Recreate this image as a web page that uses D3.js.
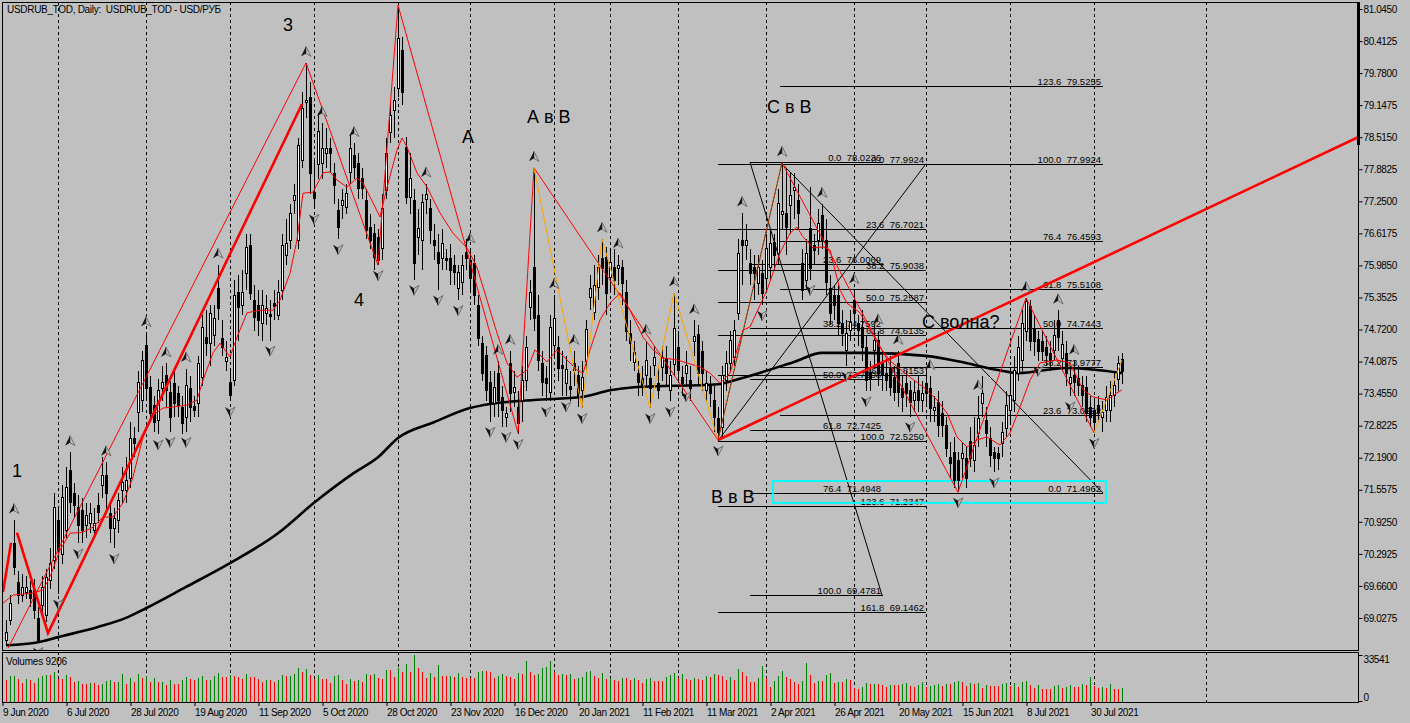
<!DOCTYPE html>
<html>
<head>
<meta charset="utf-8">
<script src="https://cdn.jsdelivr.net/npm/d3@7"></script>
<style>
    body { margin: 0; background: #c0c0c0; }
    svg { display: block; font-family: "Liberation Sans", Arial, sans-serif; }
    .lbl { white-space: pre; }
</style>
</head>
<body>
<svg id="chart" width="1410" height="723"></svg>
<script>
// ── Data ─────────────────────────────────────────────────────────────────────
// daily candles [open, high, low, close], bar 0 = 9 Jun 2020
const ohlc = [
    [68.59,68.99,68.49,68.75],[68.99,69.48,68.89,69.32],[70.51,70.96,69.88,70.03],[69.74,69.95,69.30,69.48],
    [69.48,69.90,69.35,69.64],[69.55,69.85,69.40,69.64],[69.58,69.75,69.25,69.42],[69.58,69.80,69.00,69.19],
    [69.03,69.25,68.55,68.59],[69.28,69.85,69.10,69.64],[69.09,70.00,68.95,69.84],[69.78,70.40,69.60,70.11],
    [70.17,71.50,70.00,71.22],[70.96,71.20,69.50,70.37],[70.30,71.65,70.10,71.41],[70.76,72.00,70.60,71.61],
    [71.95,72.30,71.10,71.31],[71.49,71.70,71.00,71.26],[71.22,71.45,70.50,70.86],[71.16,71.40,70.50,70.76],
    [70.86,71.30,70.60,71.06],[70.90,71.30,70.70,71.10],[70.76,71.20,70.60,70.90],[71.26,71.50,70.90,71.12],
    [71.65,72.20,71.40,71.85],[71.85,72.10,71.10,71.50],[71.10,71.30,70.50,70.80],[70.80,71.20,70.40,71.00],
    [70.96,71.50,70.70,71.35],[71.55,72.00,71.30,71.71],[71.55,72.20,71.30,71.75],[71.79,72.90,71.60,72.58],
    [72.58,72.80,72.20,72.48],[73.09,73.90,72.70,73.68],[73.33,74.30,73.10,74.12],[74.41,74.65,73.30,73.57],
    [73.59,73.80,72.90,73.07],[73.23,73.40,72.70,72.90],[72.93,73.75,72.65,73.53],[73.57,74.00,73.30,73.68],
    [73.82,74.05,73.20,73.53],[73.49,73.70,72.70,72.99],[73.66,73.95,73.00,73.27],[73.47,73.60,73.00,73.23],
    [73.19,73.40,72.65,72.87],[72.99,73.95,72.70,73.62],[73.56,73.80,72.90,73.19],[73.21,73.40,73.00,73.13],
    [73.27,74.20,73.00,74.06],[73.78,75.00,73.60,74.77],[74.57,75.10,74.20,74.45],[74.45,75.20,74.00,75.05],
    [74.61,75.20,74.40,74.94],[75.54,76.00,74.90,75.14],[74.55,74.90,74.20,74.37],[74.09,74.50,73.90,74.18],
    [73.68,73.90,73.30,73.43],[73.72,75.70,73.60,75.40],[75.46,75.80,74.50,75.16],[75.20,75.90,75.00,75.46],
    [75.83,76.60,75.50,76.35],[76.39,76.60,75.30,75.44],[75.30,75.60,74.70,74.97],[75.20,75.50,74.60,74.91],
    [74.85,75.50,74.50,75.20],[75.05,75.40,74.80,75.14],[75.03,75.30,74.50,74.99],[75.25,75.50,74.90,75.19],
    [75.00,75.70,74.90,75.46],[75.50,76.60,75.30,76.39],[76.19,76.90,76.00,76.43],[76.49,77.20,76.30,77.02],
    [77.28,77.60,77.00,77.38],[76.49,78.50,76.30,78.36],[78.06,79.40,77.90,79.09],[79.20,79.98,78.90,79.25],
    [79.31,79.60,77.40,77.81],[77.43,78.10,77.10,77.31],[77.99,79.00,77.70,78.64],[78.00,78.80,77.70,78.30],
    [78.20,78.70,77.90,78.30],[78.30,78.50,77.80,78.20],[77.81,78.00,77.20,77.57],[77.08,77.30,76.50,76.74],
    [77.18,77.50,76.90,77.28],[77.14,77.60,77.00,77.41],[77.83,78.55,77.60,78.30],[78.16,78.40,77.70,77.93],
    [78.00,78.20,77.30,77.51],[77.71,77.90,77.30,77.51],[77.28,77.50,76.50,76.68],[76.74,77.00,76.30,76.49],
    [76.62,76.80,75.90,76.15],[76.54,76.70,75.99,76.09],[76.33,77.40,76.10,77.12],[77.47,78.50,77.30,78.20],
    [78.62,79.20,78.40,78.95],[79.05,79.50,78.50,79.25],[79.49,81.10,79.30,80.47],[80.24,80.50,79.15,79.41],
    [78.32,78.52,77.20,77.34],[77.34,78.20,76.99,77.71],[77.28,77.50,75.70,76.03],[76.55,77.10,76.20,76.72],
    [76.49,77.40,75.90,77.24],[77.30,77.60,77.00,77.40],[77.12,77.30,76.40,76.68],[76.49,76.80,76.10,76.39],
    [76.25,76.60,75.50,76.03],[76.13,76.70,75.90,76.43],[76.13,76.30,75.90,76.09],[76.13,76.40,75.60,75.89],
    [75.99,76.20,75.60,75.85],[75.54,76.00,75.30,75.85],[75.66,76.20,75.40,75.99],[76.25,76.50,75.90,76.13],
    [76.09,76.30,75.50,75.74],[76.03,76.20,75.20,75.40],[75.20,75.40,74.40,74.55],[74.45,74.60,73.70,73.86],
    [74.22,74.40,73.30,73.53],[73.68,73.90,72.90,73.27],[73.27,73.90,73.00,73.59],[73.86,74.10,73.00,73.33],
    [73.39,73.60,72.80,73.13],[73.00,73.20,72.80,73.07],[74.06,74.30,73.10,73.47],[73.49,73.90,73.20,73.59],
    [73.19,73.50,72.66,72.87],[73.33,74.00,72.90,73.72],[73.72,74.60,73.50,74.37],[75.16,75.70,74.90,75.46],
    [75.95,77.91,74.70,74.95],[75.00,75.40,73.90,74.12],[74.06,74.30,73.40,73.68],[73.76,74.00,73.30,73.66],
    [73.49,75.00,73.30,74.77],[74.41,75.40,74.20,74.95],[74.37,74.60,73.70,73.96],[74.02,74.30,73.40,73.96],
    [73.66,74.20,73.40,73.94],[73.60,73.90,73.30,73.54],[74.06,74.30,73.60,73.92],[73.82,74.00,73.20,73.39],
    [73.53,74.10,73.17,73.78],[74.10,74.90,73.90,74.73],[75.36,75.80,75.10,75.54],[75.07,76.00,74.90,75.60],
    [75.56,76.20,75.30,75.95],[76.13,76.51,75.60,75.93],[76.15,76.35,75.00,75.44],[75.76,76.30,75.50,76.05],
    [75.95,76.30,75.40,75.70],[75.93,76.20,75.60,75.99],[75.95,76.10,75.20,75.64],[75.46,75.70,74.50,74.69],
    [74.65,74.90,74.10,74.45],[74.08,74.50,73.90,74.28],[73.86,74.10,73.40,73.68],[73.76,74.00,73.40,73.59],
    [73.82,74.50,73.60,74.12],[73.76,74.00,73.17,73.57],[74.02,74.40,73.80,74.18],[73.66,74.00,73.35,73.53],
    [73.98,74.40,73.70,74.18],[74.16,74.40,73.60,73.86],[73.53,74.10,73.30,73.82],[74.04,75.44,73.80,74.75],
    [74.37,74.70,73.70,73.92],[73.78,74.00,73.40,73.66],[73.86,74.30,73.60,74.02],[73.72,74.00,73.30,73.57],
    [74.49,74.90,74.20,74.59],[74.63,74.80,73.60,73.86],[74.30,74.50,73.50,73.86],[73.52,73.90,73.30,73.66],
    [73.62,73.80,73.20,73.47],[73.33,73.60,72.70,72.99],[72.97,73.20,72.53,72.70],[72.80,74.00,72.60,73.82],
    [73.72,74.30,73.50,74.06],[74.06,74.70,73.90,74.51],[74.18,74.90,74.00,74.71],[75.05,76.50,74.90,76.23],
    [76.49,77.02,75.60,76.39],[76.39,76.80,76.10,76.49],[76.03,76.30,75.60,75.83],[75.95,76.20,75.30,75.83],
    [75.64,76.20,75.40,75.95],[75.83,76.10,75.20,75.44],[75.74,76.60,75.50,76.33],[75.95,76.70,75.70,76.43],
    [76.45,76.60,75.90,76.19],[76.23,77.50,76.00,77.22],[77.00,78.01,76.70,77.06],[77.02,77.90,76.20,76.74],
    [77.18,77.80,76.60,77.38],[77.47,77.80,76.90,77.53],[77.28,77.60,76.70,77.02],[76.03,76.30,75.30,75.50],
    [75.70,76.50,75.50,76.23],[76.72,77.53,75.70,75.93],[76.39,76.60,76.00,76.29],[76.49,77.10,76.20,76.82],
    [76.98,77.20,76.30,76.49],[76.49,76.90,75.40,75.66],[75.54,75.80,74.80,75.05],[75.40,75.60,74.90,75.20],
    [75.40,75.60,74.60,74.85],[74.85,75.10,74.40,74.65],[74.31,74.90,74.00,74.65],[74.71,75.10,74.50,74.87],
    [75.30,75.50,74.70,75.05],[74.85,75.00,74.40,74.71],[74.77,75.10,74.10,74.37],[74.37,74.60,73.50,73.72],
    [73.88,74.10,73.50,73.76],[74.31,74.80,74.00,74.51],[74.51,74.70,73.60,73.86],[74.06,74.30,73.50,73.82],
    [73.86,74.10,73.50,73.72],[73.98,74.20,73.40,73.59],[73.78,74.00,73.30,73.49],[74.06,74.30,73.20,73.49],
    [73.57,73.80,73.10,73.39],[73.66,73.90,73.20,73.47],[73.53,73.70,73.00,73.29],[73.33,73.70,73.10,73.49],
    [73.53,73.80,73.10,73.33],[73.33,73.70,73.10,73.47],[73.66,73.90,73.20,73.47],[73.57,73.80,72.90,73.17],
    [73.13,73.40,72.90,73.19],[73.29,73.50,72.60,72.84],[73.07,73.30,72.60,72.84],[72.84,73.00,72.20,72.38],
    [72.20,72.50,71.80,72.08],[72.30,72.60,71.60,71.75],[72.14,72.30,71.51,71.75],[72.18,72.50,71.80,72.28],
    [72.18,72.40,71.60,71.79],[72.53,72.80,72.00,72.18],[72.14,73.00,71.90,72.44],[72.67,73.40,72.40,72.97],
    [73.27,73.80,73.00,73.47],[72.93,73.20,72.40,72.67],[72.58,72.80,72.00,72.24],[72.30,72.40,71.90,72.18],
    [72.28,72.40,71.95,72.18],[72.48,72.90,72.20,72.69],[72.77,73.50,72.60,73.23],[73.13,73.90,72.90,73.43],
    [73.33,74.20,73.10,73.92],[73.86,74.60,73.70,74.37],[74.12,75.10,73.90,74.85],[74.69,75.34,74.50,75.28],
    [75.18,75.30,74.30,74.49],[74.75,75.00,74.20,74.49],[74.53,74.70,74.10,74.29],[74.49,74.70,74.10,74.29],
    [74.37,74.60,74.00,74.22],[74.25,74.50,73.90,74.12],[74.31,74.90,74.10,74.61],[74.91,75.10,74.30,74.57],
    [74.16,74.70,73.90,74.43],[74.25,74.50,73.60,73.86],[73.66,74.00,73.40,73.78],[73.82,74.10,73.40,73.68],
    [73.76,74.00,73.40,73.62],[73.62,73.80,73.20,73.43],[73.59,73.80,72.90,73.07],[73.19,73.40,72.80,72.99],
    [73.13,73.30,72.68,72.89],[73.23,73.40,72.90,73.09],[72.99,73.30,72.70,73.09],[73.13,73.60,72.90,73.39],
    [73.13,73.70,72.90,73.43],[73.43,73.90,73.20,73.62],[73.74,74.20,73.50,74.06],[74.14,74.25,73.65,73.90]
];

const volumes = [
    15550,17980,18470,16040,13120,16040,15550,13120,16520,17980,
    18950,18950,21380,16040,16040,18950,17500,14090,14580,12640,
    12640,13120,13120,11660,12150,14580,15070,13610,14090,19680,
    12150,16520,14090,19680,17010,17980,14090,16520,13610,14090,
    11660,15070,12640,12640,15550,17500,16040,15550,17010,18470,
    15070,15550,17980,20410,17500,17500,18950,17980,17500,16040,
    19680,17500,17500,16040,14090,15550,15070,14090,15550,18950,
    17980,18470,19440,24060,21380,23330,18950,16040,18950,16040,
    16040,13120,17980,18950,15070,12640,16040,14580,15070,14090,
    19440,18950,19920,17010,16040,22840,22840,17500,23810,20900,
    26970,21380,33530,24300,20900,17010,20410,17500,26240,17980,
    17980,18470,17500,20410,17500,17010,
    16520,16520,21380,21870,21870,21380,17010,18470,19440,18470,
    17740,16040,20410,19680,29160,21380,18950,19680,24060,25030,
    29160,21380,18950,19440,18950,19440,16040,17010,17500,21380,
    21870,17980,17010,20410,16040,17010,15550,14580,16520,16520,
    15550,16520,15310,13120,16040,16520,14580,14580,14580,17500,
    18950,20410,17010,19440,16040,15550,17010,16040,15070,17980,
    17500,19440,18950,18470,15550,17500,15550,23330,21380,17980,
    14090,14090,16520,25270,16520,10210,14580,17980,21870,17500,
    16040,14090,12390,14580,27700,18950,13120,14580,14580,18710,
    20410,13120,13610,13610,16040,15550,9230,8750,10210,13120,
    12150,12390,12150,11660,10210,11660,11660,11660,12390,13120,
    11180,10210,11660,13610,10210,10690,11660,12150,
    10690,12150,12150,13610,14580,13610,10690,13120,12390,12880,
    9230,11660,10690,10690,10690,12150,13120,10690,13120,10210,
    13610,14580,11660,9230,11660,8750,8750,8750,10690,11660,
    9720,10210,11660,10210,10210,12150,11660,17500,10690,9720,
    9960,9230,12150,8750,8750,9206
];

// slow moving average [bar, price]
const maSlow = [
    [0,68.49],[8,68.55],[13,68.65],[23,68.85],[30,69.03],[35,69.22],[45,69.64],[56,70.11],
    [68,70.70],[77,71.30],[87,71.89],[93,72.20],[98,72.58],[107,72.89],[116,73.17],[121,73.25],
    [132,73.33],[144,73.39],[151,73.52],[157,73.58],[178,73.64],[183,73.74],[197,74.08],[204,74.26],
    [215,74.26],[230,74.20],[240,74.06],[248,73.92],[253,73.86],[265,73.96],[279,73.86]
];

// fast moving average [bar, price]
const maFast = [
    [-0.75,69.32],[1.75,69.48],[6.75,69.52],[9.25,69.58],[11,69.84],[13.5,70.37],[16,70.70],[19.25,70.72],
    [21.75,70.82],[24.25,71.02],[26.75,71.02],[29.25,71.30],[31.75,71.81],[34.25,72.60],[36.75,73.03],
    [39.25,73.17],[41.75,73.19],[45.25,73.23],[47.75,73.33],[49.25,73.72],[51.75,74.26],[53.5,74.45],
    [56,74.18],[57.75,74.57],[60.25,75.05],[63.5,75.10],[66.75,75.10],[68.5,75.30],[71,75.83],
    [72.75,76.49],[74.25,77.41],[76.75,77.43],[79.25,77.81],[81,77.83],[82.75,77.67],[85.25,77.53],
    [87.75,77.71],[89.25,77.61],[91.75,77.22],[93.5,76.94],[95.25,77.53],[97.75,78.26],[99,78.50],
    [100.25,78.32],[102.75,77.81],[105.25,77.53],[108.5,77.02],[111.75,76.62],[115.25,76.33],
    [117.75,75.95],[120.25,75.30],[122.75,74.65],[125.25,74.06],[127.75,73.78],[130.25,73.92],
    [132.25,74.32],[135.25,74.08],[137.75,74.32],[140.25,74.12],[142.75,73.92],[144.25,73.86],
    [146,74.32],[148.5,74.91],[151,75.24],[153.5,75.44],[156,75.10],[159.25,74.57],[161.75,74.32],
    [164.25,74.16],[167.75,74.12],[170.25,74.06],[173.5,73.98],[176,73.86],[178.5,73.66],[181,73.86],
    [184.25,74.71],[186,74.77],[190.25,75.50],[193.5,76.23],[196,76.62],[197.75,76.74],[199.25,76.55],
    [201.75,76.33],[204.25,76.35],[206,76.29],[208.5,75.50],[210.25,75.24],[213.5,75.05],[216,74.71],
    [218.5,74.37],[221,74.10],[226,73.78],[229.25,73.59],[232.75,73.33],[235.25,73.07],[237.75,72.60],
    [240.25,72.40],[242.75,72.54],[245.25,72.60],[248.5,72.44],[251,72.68],[253.5,73.19],[256,73.72],
    [258.5,74.06],[262.75,74.12],[266,74.06],[269.25,73.53],[271.75,73.39],[275.25,73.33],
    [277.75,73.47],[279,73.53]
];

// zigzag swings [bar, price]
const zigzagMain = [
    [0.5,68.43],[75,79.98],[93,75.99],[98,81.12],[128,72.68],[132,77.91],[178,72.54],
    [194,78.01],[238,71.51],[255,75.34],[272,72.68]
];
const zigzagMinorA = [[132,77.91],[144,73.17],[149,76.51],[161,73.17],[167,75.44],[178,72.54]];
const zigzagMinorB = [[272,72.68],[279,74.12]];
const waveLegA = [[-0.75,69.54],[1.25,70.51]];
const waveLegB = [[2.75,70.71],[10.5,68.73],[74,79.17]];
const waveLegC = [[178,72.54],[194,78.01]];
const trendLine = [[178,72.54],[338,78.515]];

// fractal markers (bar indices)
const fractalUp = [2,16,25,35,40,45,53,75,79,87,105,116,123,126,132,137,142,149,153,160,167,172,
    184,194,204,212,218,223,231,243,255,263,267];
const fractalDown = [8,13,18,27,38,41,45,56,66,77,83,93,102,108,113,121,125,128,135,140,144,161,
    166,170,178,189,201,210,215,226,238,247,258,266,272];

// Fibonacci sets: bar range, diagonal, levels [label, price]
const fibLeft = { from: 178, to: 230, diag: [[178,72.525],[230,77.9924]], levels: [
    ["0.0",77.9924],["23.6",76.7021],["38.2",75.9038],["50.0",75.2587],["61.8",74.6135],
    ["76.4",73.8153],["100.0",72.5250],["123.6",71.2347],["161.8",69.1462]] };
const fibMid = { from: 186, to: 219.25, diag: [[186,78.0236],[219,69.4781]], levels: [
    ["0.0",78.0236],["23.6",76.0069],["38.2",74.7592],["50.0",73.7508],["61.8",72.7425],
    ["76.4",71.4948],["100.0",69.4781]] };
const fibRight = { from: 193.5, to: 274.25, diag: [[194,77.9924],[274.25,71.4962]], levels: [
    ["0.0",71.4962],["23.6",73.0292],["38.2",73.9777],["50.0",74.7443],["61.8",75.5108],
    ["76.4",76.4593],["100.0",77.9924],["123.6",79.5255]] };
const targetBox = { from: 191.75, to: 275, top: 71.73, bottom: 71.30 };

const notes = [
    ["1",1.5,71.81],["3",69.25,80.61],["4",87,75.18],["А",114,78.40],["А в В",130.25,78.80],
    ["С в В",190.25,78.99],["В в В",176.25,71.30],["С волна?",229,74.75]
];

const priceTicks = [81.045,80.4125,79.78,79.1475,78.515,77.8825,77.25,76.6175,75.985,75.3525,
    74.72,74.0875,73.455,72.8225,72.19,71.5575,70.925,70.2925,69.66,69.0275];
const dateTicks = [[0,"9 Jun 2020"],[16,"6 Jul 2020"],[32,"28 Jul 2020"],[48,"19 Aug 2020"],
    [64,"11 Sep 2020"],[80,"5 Oct 2020"],[96,"28 Oct 2020"],[112,"23 Nov 2020"],[128,"16 Dec 2020"],
    [144,"20 Jan 2021"],[160,"11 Feb 2021"],[176,"11 Mar 2021"],[192,"2 Apr 2021"],[208,"26 Apr 2021"],
    [224,"20 May 2021"],[240,"15 Jun 2021"],[256,"8 Jul 2021"],[272,"30 Jul 2021"]];
const monthGrid = [13,35,56,77,98,116,137,151,168,190,212,230,251,272,300];
const volumeTicks = [0,33541];

// ── Layout ─────────────────────────────────────────────────────────────────
const L = 2, R = 1358, mainTop = 2, mainBot = 650, volTop = 652, volBot = 702;

const svg = d3.select("#chart");
svg.append("rect").attr("width", 1410).attr("height", 723).attr("fill", "#c0c0c0");

const defs = svg.append("defs");
defs.append("clipPath").attr("id", "clipMain")
    .append("rect").attr("x", L).attr("y", mainTop).attr("width", R - L).attr("height", mainBot - mainTop);
defs.append("clipPath").attr("id", "clipVol")
    .append("rect").attr("x", L).attr("y", volTop).attr("width", R - L).attr("height", volBot - volTop);

// ── Scales ─────────────────────────────────────────────────────────────────
const xScale = d3.scaleLinear().domain([0, 279]).range([6, 1122]);
const yScale = d3.scaleLinear().domain([69.0275, 81.045]).range([618, 9]);
const vScale = d3.scaleLinear().domain([0, 33541]).range([701, 655]);

const line = d3.line().x(d => xScale(d[0])).y(d => yScale(d[1]));
const smooth = d3.line().x(d => xScale(d[0])).y(d => yScale(d[1])).curve(d3.curveMonotoneX);

// ── Grid ───────────────────────────────────────────────────────────────────
const grid = svg.append("g").attr("stroke", "#000").attr("stroke-dasharray", "3,3")
    .attr("shape-rendering", "crispEdges");
monthGrid.forEach(b => {
    const x = Math.round(xScale(b)) + 0.5;
    grid.append("line").attr("x1", x).attr("x2", x).attr("y1", mainTop).attr("y2", mainBot);
    grid.append("line").attr("x1", x).attr("x2", x).attr("y1", volTop).attr("y2", volBot);
});

const main = svg.append("g").attr("clip-path", "url(#clipMain)");

// ── Fibonacci objects ──────────────────────────────────────────────────────
function drawFib(set) {
    const g = main.append("g");
    g.append("path").datum(set.diag).attr("d", line)
        .attr("fill", "none").attr("stroke", "#000").attr("stroke-width", 1);
    set.levels.forEach(([lv, p]) => {
        const y = Math.round(yScale(p)) + 0.5;
        g.append("line").attr("x1", xScale(set.from)).attr("x2", xScale(set.to))
            .attr("y1", y).attr("y2", y).attr("stroke", "#000").attr("stroke-width", 1);
        g.append("text").attr("class", "lbl")
            .attr("x", xScale(set.to) - 2).attr("y", y - 2)
            .attr("text-anchor", "end").attr("font-size", "9.5px").attr("fill", "#000")
            .text(`${lv}  ${p.toFixed(4)}`);
    });
}
drawFib(fibLeft);
drawFib(fibMid);
drawFib(fibRight);

main.append("rect")
    .attr("x", xScale(targetBox.from)).attr("y", yScale(targetBox.top))
    .attr("width", xScale(targetBox.to) - xScale(targetBox.from))
    .attr("height", yScale(targetBox.bottom) - yScale(targetBox.top))
    .attr("fill", "none").attr("stroke", "#00ffff").attr("stroke-width", 2);

// ── Slow MA ────────────────────────────────────────────────────────────────
main.append("path").datum(maSlow).attr("d", smooth)
    .attr("fill", "none").attr("stroke", "#000").attr("stroke-width", 2.6);

// ── Candles ────────────────────────────────────────────────────────────────
const candles = main.append("g").attr("shape-rendering", "crispEdges");
ohlc.forEach(([o, h, l, c], i) => {
    const xc = Math.round(xScale(i));
    candles.append("line")
        .attr("x1", xc + 0.5).attr("x2", xc + 0.5)
        .attr("y1", Math.round(yScale(h))).attr("y2", Math.round(yScale(l)))
        .attr("stroke", "#000");
    const top = Math.round(yScale(Math.max(o, c)));
    const bot = Math.round(yScale(Math.min(o, c)));
    candles.append("rect")
        .attr("x", xc - 0.5).attr("y", top + 0.5)
        .attr("width", 2).attr("height", Math.max(bot - top, 1))
        .attr("fill", c >= o ? "#fff" : "#000")
        .attr("stroke", "#000").attr("stroke-width", 1);
});

// ── Fast MA and zigzags ────────────────────────────────────────────────────
main.append("path").datum(maFast).attr("d", line)
    .attr("fill", "none").attr("stroke", "#ff0000").attr("stroke-width", 1);
main.append("path").datum(zigzagMain).attr("d", line)
    .attr("fill", "none").attr("stroke", "#ff0000").attr("stroke-width", 1);
[zigzagMinorA, zigzagMinorB].forEach(z => {
    main.append("path").datum(z).attr("d", line)
        .attr("fill", "none").attr("stroke", "#ffa500").attr("stroke-width", 1);
});
[waveLegA, waveLegB].forEach(z => {
    main.append("path").datum(z).attr("d", line)
        .attr("fill", "none").attr("stroke", "#ff0000").attr("stroke-width", 2.6);
});
main.append("path").datum(waveLegC).attr("d", line)
    .attr("fill", "none").attr("stroke", "#008000").attr("stroke-width", 1)
    .attr("stroke-dasharray", "2,2");
main.append("path").datum(trendLine).attr("d", line)
    .attr("fill", "none").attr("stroke", "#ff0000").attr("stroke-width", 2.6);

// ── Fractal arrows ─────────────────────────────────────────────────────────
const arrows = main.append("g");
function arrow(x, y, up) {
    const s = up ? 1 : -1;
    const g = arrows.append("g").attr("transform", `translate(${x},${y}) scale(1,${s})`);
    g.append("path").attr("d", "M0,-5.5 L5,4.5 L0,1.5 Z")
        .attr("fill", "#c0c0c0").attr("stroke", "#6e6e6e").attr("stroke-width", 1);
    g.append("path").attr("d", "M0,-5.5 L-5,4.5 L0,1.5 Z").attr("fill", "#141414");
}
fractalUp.forEach(b => arrow(xScale(b), yScale(ohlc[b][1]) - 11, true));
fractalDown.forEach(b => arrow(xScale(b), yScale(ohlc[b][2]) + 10, false));

// ── Wave notes ─────────────────────────────────────────────────────────────
notes.forEach(([t, b, p]) => {
    main.append("text").attr("class", "lbl")
        .attr("x", xScale(b)).attr("y", yScale(p))
        .attr("font-size", "18px").attr("fill", "#000").text(t);
});

// ── Volumes ────────────────────────────────────────────────────────────────
const vol = svg.append("g").attr("clip-path", "url(#clipVol)").attr("shape-rendering", "crispEdges");
volumes.forEach((v, i) => {
    const up = i > 0 && v > volumes[i - 1];
    vol.append("rect")
        .attr("x", Math.round(xScale(i))).attr("y", vScale(v))
        .attr("width", 1).attr("height", volBot - vScale(v))
        .attr("fill", up ? "#008000" : "#ff0000");
});

// ── Frames ─────────────────────────────────────────────────────────────────
const frame = svg.append("g").attr("fill", "none").attr("stroke", "#000").attr("shape-rendering", "crispEdges");
frame.append("rect").attr("x", L + 0.5).attr("y", mainTop + 0.5).attr("width", R - L).attr("height", mainBot - mainTop);
frame.append("rect").attr("x", L + 0.5).attr("y", volTop + 0.5).attr("width", R - L).attr("height", volBot - volTop);
svg.append("rect").attr("x", R - 1).attr("y", mainTop).attr("width", 3).attr("height", 143).attr("fill", "#000");

// ── Axes ───────────────────────────────────────────────────────────────────
const axisFont = g => g.selectAll("text")
    .attr("font-family", "Liberation Sans, Arial, sans-serif")
    .attr("font-size", "10px").attr("letter-spacing", "-0.4px").attr("fill", "#000");

const yAxis = svg.append("g").attr("transform", `translate(${R + 0.5},0)`)
    .call(d3.axisRight(yScale).tickValues(priceTicks).tickSize(4).tickPadding(1)
        .tickFormat(d3.format(".4f")));
yAxis.select(".domain").remove();
yAxis.call(axisFont);

const vAxis = svg.append("g").attr("transform", `translate(${R + 0.5},0)`)
    .call(d3.axisRight(vScale).tickValues(volumeTicks).tickSize(4).tickPadding(1)
        .tickFormat(d3.format("d")));
vAxis.select(".domain").remove();
vAxis.call(axisFont);
vAxis.selectAll("text").attr("dy", d => d === 0 ? "-0.05em" : "0.7em");

const xAxis = svg.append("g").attr("transform", `translate(-3.5,${volBot})`)
    .call(d3.axisBottom(xScale).tickValues(dateTicks.map(d => d[0])).tickSize(4).tickPadding(3)
        .tickFormat((d, i) => dateTicks[i][1]));
xAxis.select(".domain").remove();
xAxis.call(axisFont);
xAxis.selectAll("text").attr("text-anchor", "start").attr("x", 0);

// ── Labels ─────────────────────────────────────────────────────────────────
svg.append("text").attr("class", "lbl").attr("x", 7).attr("y", 13)
    .attr("font-size", "10px").attr("letter-spacing", "-0.3px")
    .text("USDRUB_TOD, Daily:  USDRUB_TOD - USD/РУБ");
svg.append("text").attr("x", 6).attr("y", 665)
    .attr("font-size", "10px").attr("letter-spacing", "-0.2px")
    .text(`Volumes ${volumes[volumes.length - 1]}`);
</script>
</body>
</html>
